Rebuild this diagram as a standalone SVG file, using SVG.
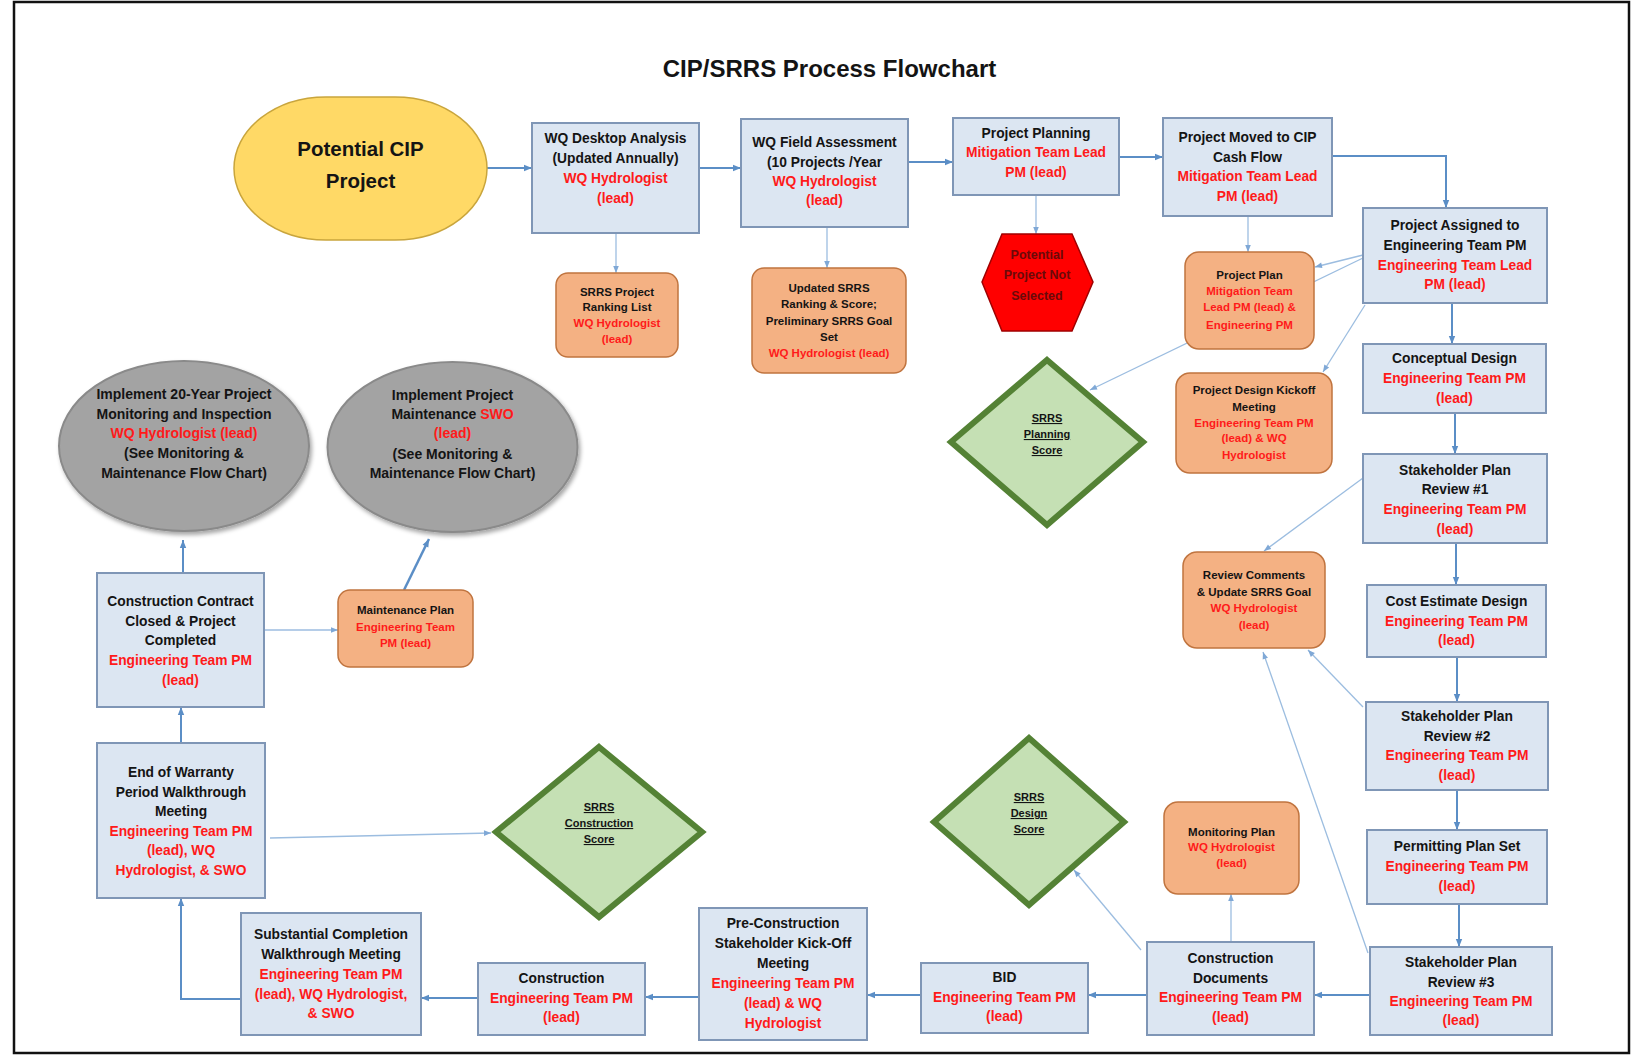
<svg xmlns="http://www.w3.org/2000/svg" width="1631" height="1055" viewBox="0 0 1631 1055">
<style>
text{font-family:"Liberation Sans",Arial,sans-serif;font-weight:bold;text-anchor:middle}
.t{font-size:13.8px}
.s{font-size:11.5px}
.e{font-size:14px}
.k{fill:#141414}
.r{fill:#ff1a1a}
.box{fill:#dce6f2;stroke:#7f96b6;stroke-width:2}
.org{fill:#f4b183;stroke:#c0743f;stroke-width:1.5}
.dia{fill:#c5e0b4;stroke:#548235;stroke-width:6;stroke-linejoin:miter}
.ell{fill:#a3a3a3;stroke:#8a8a8a;stroke-width:2}
.c{fill:none;stroke:#5b8ec6;stroke-width:2}
.ct{fill:none;stroke:#9cbde0;stroke-width:1.3}
.u{text-decoration:underline;font-size:11px}
</style>
<defs>
<marker id="a" viewBox="0 0 10 10" refX="10" refY="5" markerWidth="9" markerHeight="8" markerUnits="userSpaceOnUse" orient="auto"><path d="M0,1 L10,5 L0,9 z" fill="#5b8ec6"/></marker>
<marker id="b" viewBox="0 0 10 10" refX="10" refY="5" markerWidth="8" markerHeight="7" markerUnits="userSpaceOnUse" orient="auto"><path d="M0,1 L10,5 L0,9 z" fill="#7fa8d6"/></marker>
<filter id="sh" x="-10%" y="-10%" width="130%" height="130%"><feDropShadow dx="2" dy="3" stdDeviation="2" flood-color="#000" flood-opacity="0.35"/></filter>
</defs>
<rect x="0" y="0" width="1631" height="1055" fill="#fff"/>
<rect x="14" y="2" width="1615" height="1051" fill="none" stroke="#111" stroke-width="2.5"/>
<text x="829.5" y="77" style="font-size:24px" class="k">CIP/SRRS Process Flowchart</text>

<g id="connectors">
<path class="c" marker-end="url(#a)" d="M487,168 H532"/>
<path class="c" marker-end="url(#a)" d="M699,168 H741"/>
<path class="ct" marker-end="url(#b)" d="M616,233 V273"/>
<path class="ct" marker-end="url(#b)" d="M827,227 V268"/>
<path class="c" marker-end="url(#a)" d="M908,162 H953"/>
<path class="c" marker-end="url(#a)" d="M1119,157 H1163"/>
<path class="ct" marker-end="url(#b)" d="M1036,195 V234"/>
<path class="ct" marker-end="url(#b)" d="M1248,216 V252"/>
<path class="c" marker-end="url(#a)" d="M1332,156 H1446 V208"/>
<path class="ct" marker-end="url(#b)" d="M1363,255 L1315,267"/>
<path class="ct" marker-end="url(#b)" d="M1363,258 L1090,390"/>
<path class="ct" marker-end="url(#b)" d="M1365,305 L1323,372"/>
<path class="c" marker-end="url(#a)" d="M1452,303 V344"/>
<path class="c" marker-end="url(#a)" d="M1455,413 V454"/>
<path class="ct" marker-end="url(#b)" d="M1363,478 L1264,551"/>
<path class="c" marker-end="url(#a)" d="M1456,543 V585"/>
<path class="c" marker-end="url(#a)" d="M1457,657 V702"/>
<path class="ct" marker-end="url(#b)" d="M1363,707 L1308,650"/>
<path class="c" marker-end="url(#a)" d="M1457,790 V830"/>
<path class="c" marker-end="url(#a)" d="M1459,904 V947"/>
<path class="ct" marker-end="url(#b)" d="M1368,953 L1263,652"/>
<path class="c" marker-end="url(#a)" d="M1370,995 H1314"/>
<path class="ct" marker-end="url(#b)" d="M1231,942 V894"/>
<path class="ct" marker-end="url(#b)" d="M1141,950 L1074,870"/>
<path class="c" marker-end="url(#a)" d="M1146,995 H1088"/>
<path class="c" marker-end="url(#a)" d="M921,995 H867"/>
<path class="c" marker-end="url(#a)" d="M699,997 H645"/>
<path class="c" marker-end="url(#a)" d="M478,998 H421"/>
<path class="c" marker-end="url(#a)" d="M241,999 H181 V898"/>
<path class="ct" marker-end="url(#b)" d="M270,838 L491,833"/>
<path class="c" marker-end="url(#a)" d="M181,743 V707"/>
<path class="c" marker-end="url(#a)" d="M183,573 V540"/>
<path class="ct" marker-end="url(#b)" d="M264,630 H338"/>
<path class="c" style="stroke-width:2.5" marker-end="url(#a)" d="M404,590 L429,539"/>
</g>

<g id="n-potential">
<rect x="234" y="97" width="253" height="143" rx="92" ry="71.5" fill="#ffd966" stroke="#c9a53c" stroke-width="1.5"/>
<text class="k" x="360.5" y="156" style="font-size:20.5px">Potential CIP</text>
<text class="k" x="360.5" y="188" style="font-size:20.5px">Project</text>
</g>

<g id="n-desktop">
<rect class="box" x="532" y="123" width="167" height="110"/>
<text class="t k" x="615.5" y="143">WQ Desktop Analysis</text>
<text class="t k" x="615.5" y="163">(Updated Annually)</text>
<text class="t r" x="615.5" y="183">WQ Hydrologist</text>
<text class="t r" x="615.5" y="203">(lead)</text>
</g>

<g id="n-field">
<rect class="box" x="741" y="119" width="167" height="108"/>
<text class="t k" x="824.5" y="147">WQ Field Assessment</text>
<text class="t k" x="824.5" y="167">(10 Projects /Year</text>
<text class="t r" x="824.5" y="186">WQ Hydrologist</text>
<text class="t r" x="824.5" y="205">(lead)</text>
</g>

<g id="n-planning">
<rect class="box" x="953" y="118" width="166" height="77"/>
<text class="t k" x="1036" y="138">Project Planning</text>
<text class="t r" x="1036" y="157">Mitigation Team Lead</text>
<text class="t r" x="1036" y="177">PM (lead)</text>
</g>

<g id="n-moved">
<rect class="box" x="1163" y="118" width="169" height="98"/>
<text class="t k" x="1247.5" y="142">Project Moved to CIP</text>
<text class="t k" x="1247.5" y="162">Cash Flow</text>
<text class="t r" x="1247.5" y="181">Mitigation Team Lead</text>
<text class="t r" x="1247.5" y="201">PM (lead)</text>
</g>

<g id="n-assigned">
<rect class="box" x="1363" y="208" width="184" height="95"/>
<text class="t k" x="1455" y="230">Project Assigned to</text>
<text class="t k" x="1455" y="250">Engineering Team PM</text>
<text class="t r" x="1455" y="270">Engineering Team Lead</text>
<text class="t r" x="1455" y="289">PM (lead)</text>
</g>

<g id="n-conceptual">
<rect class="box" x="1363" y="344" width="183" height="69"/>
<text class="t k" x="1454.5" y="363">Conceptual Design</text>
<text class="t r" x="1454.5" y="383">Engineering Team PM</text>
<text class="t r" x="1454.5" y="403">(lead)</text>
</g>

<g id="n-review1">
<rect class="box" x="1363" y="454" width="184" height="89"/>
<text class="t k" x="1455" y="475">Stakeholder Plan</text>
<text class="t k" x="1455" y="494">Review #1</text>
<text class="t r" x="1455" y="514">Engineering Team PM</text>
<text class="t r" x="1455" y="534">(lead)</text>
</g>

<g id="n-cost">
<rect class="box" x="1367" y="585" width="179" height="72"/>
<text class="t k" x="1456.5" y="606">Cost Estimate Design</text>
<text class="t r" x="1456.5" y="626">Engineering Team PM</text>
<text class="t r" x="1456.5" y="645">(lead)</text>
</g>

<g id="n-review2">
<rect class="box" x="1366" y="702" width="182" height="88"/>
<text class="t k" x="1457" y="721">Stakeholder Plan</text>
<text class="t k" x="1457" y="741">Review #2</text>
<text class="t r" x="1457" y="760">Engineering Team PM</text>
<text class="t r" x="1457" y="780">(lead)</text>
</g>

<g id="n-permitting">
<rect class="box" x="1367" y="830" width="180" height="74"/>
<text class="t k" x="1457" y="851">Permitting Plan Set</text>
<text class="t r" x="1457" y="871">Engineering Team PM</text>
<text class="t r" x="1457" y="891">(lead)</text>
</g>

<g id="n-review3">
<rect class="box" x="1370" y="947" width="182" height="88"/>
<text class="t k" x="1461" y="967">Stakeholder Plan</text>
<text class="t k" x="1461" y="987">Review #3</text>
<text class="t r" x="1461" y="1006">Engineering Team PM</text>
<text class="t r" x="1461" y="1025">(lead)</text>
</g>

<g id="n-cd">
<rect class="box" x="1147" y="942" width="167" height="93"/>
<text class="t k" x="1230.5" y="963">Construction</text>
<text class="t k" x="1230.5" y="983">Documents</text>
<text class="t r" x="1230.5" y="1002">Engineering Team PM</text>
<text class="t r" x="1230.5" y="1022">(lead)</text>
</g>

<g id="n-bid">
<rect class="box" x="921" y="963" width="167" height="70"/>
<text class="t k" x="1004.5" y="982">BID</text>
<text class="t r" x="1004.5" y="1002">Engineering Team PM</text>
<text class="t r" x="1004.5" y="1021">(lead)</text>
</g>

<g id="n-precon">
<rect class="box" x="699" y="908" width="168" height="132"/>
<text class="t k" x="783" y="928">Pre-Construction</text>
<text class="t k" x="783" y="948">Stakeholder Kick-Off</text>
<text class="t k" x="783" y="968">Meeting</text>
<text class="t r" x="783" y="988">Engineering Team PM</text>
<text class="t r" x="783" y="1008">(lead) &amp; WQ</text>
<text class="t r" x="783" y="1028">Hydrologist</text>
</g>

<g id="n-construction">
<rect class="box" x="478" y="963" width="167" height="72"/>
<text class="t k" x="561.5" y="983">Construction</text>
<text class="t r" x="561.5" y="1003">Engineering Team PM</text>
<text class="t r" x="561.5" y="1022">(lead)</text>
</g>

<g id="n-substantial">
<rect class="box" x="241" y="913" width="180" height="122"/>
<text class="t k" x="331" y="939">Substantial Completion</text>
<text class="t k" x="331" y="959">Walkthrough Meeting</text>
<text class="t r" x="331" y="979">Engineering Team PM</text>
<text class="t r" x="331" y="999">(lead), WQ Hydrologist,</text>
<text class="t r" x="331" y="1018">&amp; SWO</text>
</g>

<g id="n-warranty">
<rect class="box" x="97" y="743" width="168" height="155"/>
<text class="t k" x="181" y="777">End of Warranty</text>
<text class="t k" x="181" y="797">Period Walkthrough</text>
<text class="t k" x="181" y="816">Meeting</text>
<text class="t r" x="181" y="836">Engineering Team PM</text>
<text class="t r" x="181" y="855">(lead), WQ</text>
<text class="t r" x="181" y="875">Hydrologist, &amp; SWO</text>
</g>

<g id="n-contract">
<rect class="box" x="97" y="573" width="167" height="134"/>
<text class="t k" x="180.5" y="606">Construction Contract</text>
<text class="t k" x="180.5" y="626">Closed &amp; Project</text>
<text class="t k" x="180.5" y="645">Completed</text>
<text class="t r" x="180.5" y="665">Engineering Team PM</text>
<text class="t r" x="180.5" y="685">(lead)</text>
</g>

<g id="n-maintenance-plan">
<rect class="org" x="338" y="590" width="135" height="77" rx="12"/>
<text class="s k" x="405.5" y="614">Maintenance Plan</text>
<text class="s r" x="405.5" y="631">Engineering Team</text>
<text class="s r" x="405.5" y="647">PM (lead)</text>
</g>

<g id="n-monitoring-inspection">
<ellipse class="ell" cx="184" cy="446" rx="125" ry="85" filter="url(#sh)"/>
<text class="e k" x="184" y="399">Implement 20-Year Project</text>
<text class="e k" x="184" y="419">Monitoring and Inspection</text>
<text class="e r" x="184" y="438">WQ Hydrologist (lead)</text>
<text class="e k" x="184" y="458">(See Monitoring &amp;</text>
<text class="e k" x="184" y="478">Maintenance Flow Chart)</text>
</g>

<g id="n-maintenance">
<ellipse class="ell" cx="452.5" cy="447" rx="125" ry="85" filter="url(#sh)"/>
<text class="e k" x="452.5" y="400">Implement Project</text>
<text class="e k" x="452.5" y="419">Maintenance <tspan class="r">SWO</tspan></text>
<text class="e r" x="452.5" y="438">(lead)</text>
<text class="e k" x="452.5" y="459">(See Monitoring &amp;</text>
<text class="e k" x="452.5" y="478">Maintenance Flow Chart)</text>
</g>

<g id="n-ranking">
<rect class="org" x="556" y="273" width="122" height="84" rx="12"/>
<text class="s k" x="617" y="296">SRRS Project</text>
<text class="s k" x="617" y="311">Ranking List</text>
<text class="s r" x="617" y="327">WQ Hydrologist</text>
<text class="s r" x="617" y="343">(lead)</text>
</g>

<g id="n-updated">
<rect class="org" x="752" y="268" width="154" height="105" rx="12"/>
<text class="s k" x="829" y="292">Updated SRRS</text>
<text class="s k" x="829" y="308">Ranking &amp; Score;</text>
<text class="s k" x="829" y="325">Preliminary SRRS Goal</text>
<text class="s k" x="829" y="341">Set</text>
<text class="s r" x="829" y="357">WQ Hydrologist (lead)</text>
</g>

<g id="n-not-selected">
<polygon points="1002,234 1072,234 1093,282 1072,331 1002,331 982,282" fill="#ff0000" stroke="#a00000" stroke-width="1.5"/>
<text x="1037" y="258.5" style="font-size:12.5px;fill:#6a0a0a">Potential</text>
<text x="1037" y="278.5" style="font-size:12.5px;fill:#6a0a0a">Project Not</text>
<text x="1037" y="299.5" style="font-size:12.5px;fill:#6a0a0a">Selected</text>
</g>

<g id="n-project-plan">
<rect class="org" x="1185" y="252" width="129" height="97" rx="14"/>
<text class="s k" x="1249.5" y="279">Project Plan</text>
<text class="s r" x="1249.5" y="295">Mitigation Team</text>
<text class="s r" x="1249.5" y="311">Lead PM (lead) &amp;</text>
<text class="s r" x="1249.5" y="329">Engineering PM</text>
</g>

<g id="n-kickoff">
<rect class="org" x="1176" y="373" width="156" height="100" rx="14"/>
<text class="s k" x="1254" y="394">Project Design Kickoff</text>
<text class="s k" x="1254" y="411">Meeting</text>
<text class="s r" x="1254" y="427">Engineering Team PM</text>
<text class="s r" x="1254" y="442">(lead) &amp; WQ</text>
<text class="s r" x="1254" y="459">Hydrologist</text>
</g>

<g id="n-review-comments">
<rect class="org" x="1183" y="552" width="142" height="96" rx="14"/>
<text class="s k" x="1254" y="579">Review Comments</text>
<text class="s k" x="1254" y="596">&amp; Update SRRS Goal</text>
<text class="s r" x="1254" y="612">WQ Hydrologist</text>
<text class="s r" x="1254" y="629">(lead)</text>
</g>

<g id="n-monitoring-plan">
<rect class="org" x="1164" y="802" width="135" height="92" rx="14"/>
<text class="s k" x="1231.5" y="836">Monitoring Plan</text>
<text class="s r" x="1231.5" y="851">WQ Hydrologist</text>
<text class="s r" x="1231.5" y="867">(lead)</text>
</g>

<g id="n-planning-score">
<polygon class="dia" points="1047,360 1143,442 1047,525 951,442"/>
<text class="u k" x="1047" y="422">SRRS</text>
<text class="u k" x="1047" y="438">Planning</text>
<text class="u k" x="1047" y="454">Score</text>
</g>

<g id="n-design-score">
<polygon class="dia" points="1029,738 1124,822 1029,905 934,822"/>
<text class="u k" x="1029" y="801">SRRS</text>
<text class="u k" x="1029" y="817">Design</text>
<text class="u k" x="1029" y="833">Score</text>
</g>

<g id="n-construction-score">
<polygon class="dia" points="599,747 702,832 599,917 496,832"/>
<text class="u k" x="599" y="811">SRRS</text>
<text class="u k" x="599" y="827">Construction</text>
<text class="u k" x="599" y="843">Score</text>
</g>
</svg>
